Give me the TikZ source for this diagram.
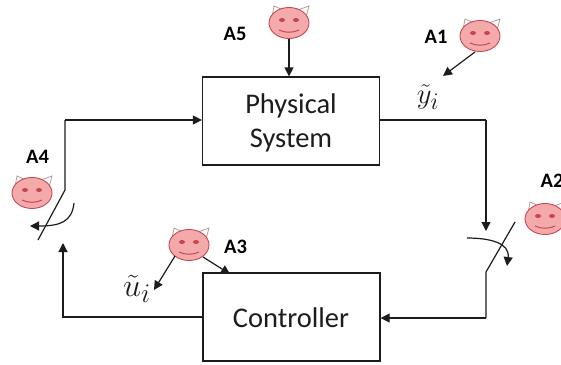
\documentclass[tikz,border=0pt]{standalone}
\usepackage{fontspec}
\setmainfont{Carlito}
\usetikzlibrary{shapes.geometric,arrows.meta}
\definecolor{facefill}{HTML}{F4A9AB}
\definecolor{faceline}{HTML}{C8474F}
\definecolor{earline}{HTML}{B99A9A}
\definecolor{inkc}{HTML}{1C1C1C}
\tikzset{
  x=1pt,y=-1pt,
  line/.style={draw=inkc,line width=1.2pt},
  arr/.style={line,-{Triangle[length=9pt,width=9pt]}},
  blockbox/.style={draw=inkc,line width=1.2pt,minimum width=177pt,minimum height=88pt,inner sep=0pt},
  blocktext/.style={inner sep=0pt,align=center,font=\fontsize{28.5}{34}\selectfont,text=inkc},
  tag/.style={font=\fontsize{20.5}{24}\selectfont\bfseries,text=black,inner sep=0pt},
  face/.style={ellipse,draw=faceline,fill=facefill,line width=0.9pt,minimum width=40pt,minimum height=31pt,inner sep=0pt},
  sym/.style={inner sep=0pt,text=inkc,font=\fontsize{24.88}{28}\selectfont}
}
\newcommand{\devil}[3]{%
  \draw[earline,line width=0.8pt,fill=white] (#2-17,#3-6) -- (#2-15,#3-17) -- (#2-4,#3-12);
  \draw[earline,line width=0.8pt,fill=white] (#2+17,#3-6) -- (#2+20,#3-17) -- (#2+6,#3-12);
  \node[face] (#1) at (#2,#3) {};
  \fill[faceline] (#2-7,#3-3) ellipse (3pt and 2pt);
  \fill[faceline] (#2+7,#3-3) ellipse (3pt and 2pt);
  \draw[faceline,line width=1pt] (#2-10,#3+7) .. controls (#2-4,#3+10) and (#2+4,#3+10) .. (#2+10,#3+7);
}
\begin{document}
\begin{tikzpicture}
\useasboundingbox (0,0) rectangle (561,364);
\node[blockbox] (phys) at (291,121) {};
\node[blocktext] (physt) at (291,123) {Physical\\System};
\node[blockbox] (ctrl) at (291.5,317) {};
\node[blocktext] (ctrlt) at (291,318) {Controller};
\devil{dfive}{289}{23}
\devil{done}{480}{36}
\devil{dtwo}{545}{219}
\devil{dfour}{32}{193}
\devil{dthree}{189}{245}
\node[tag] (la5) at (235,34) {A5};
\node[tag] (la1) at (436,37) {A1};
\node[tag] (la2) at (552,181) {A2};
\node[tag] (la3) at (235.5,247) {A3};
\node[tag] (la4) at (37.5,157) {A4};
\node[sym] (yt) at (428,97) {\scalebox{1.15}{$\tilde{y}_i$}};
\node[sym] (ut) at (137,289) {\scalebox{1.3}{$\tilde{u}_i$}};
% free ends
\coordinate (topin) at (phys.north -| dfive);
\coordinate (c1) at (486,120);
\coordinate (c2) at (486,231);
\coordinate (s2b) at (486,272);
\coordinate (s2t) at (515,222);
\coordinate (c3) at (486,318);
\coordinate (c4) at (63,317);
\coordinate (c5) at (63,243);
\coordinate (s4b) at (65,190);
\coordinate (s4e) at (38,240);
\coordinate (c6) at (65,120);
\coordinate (a3t) at (230,274);
% connectors
\draw[arr] (dfive) -- (topin);
\draw[arr] (done.south) ++(-5,0) -- (443,76);
\draw[line] (phys.east |- c1) -- (c1);
\draw[arr] (c1) -- (c2);
\draw[line] (s2t) -- (s2b) -- (c3);
\draw[arr] (c3) -- (ctrl.east |- c3);
\draw[arr] (ctrl.west |- c4) -- (c4) -- (c5);
\draw[line] (s4e) -- (s4b) -- (c6);
\draw[arr] (c6) -- (phys.west |- c6);
\draw[arr] (dthree) ++(-14,11) -- (154,290);
\draw[arr] (dthree) ++(14,12) -- (a3t);
% attack curves
\draw[arr] (467,238) .. controls (490,238) and (510,243) .. (507,266);
\draw[arr] (74,203) .. controls (72,222) and (60,226) .. (30,226);
\end{tikzpicture}
\end{document}
